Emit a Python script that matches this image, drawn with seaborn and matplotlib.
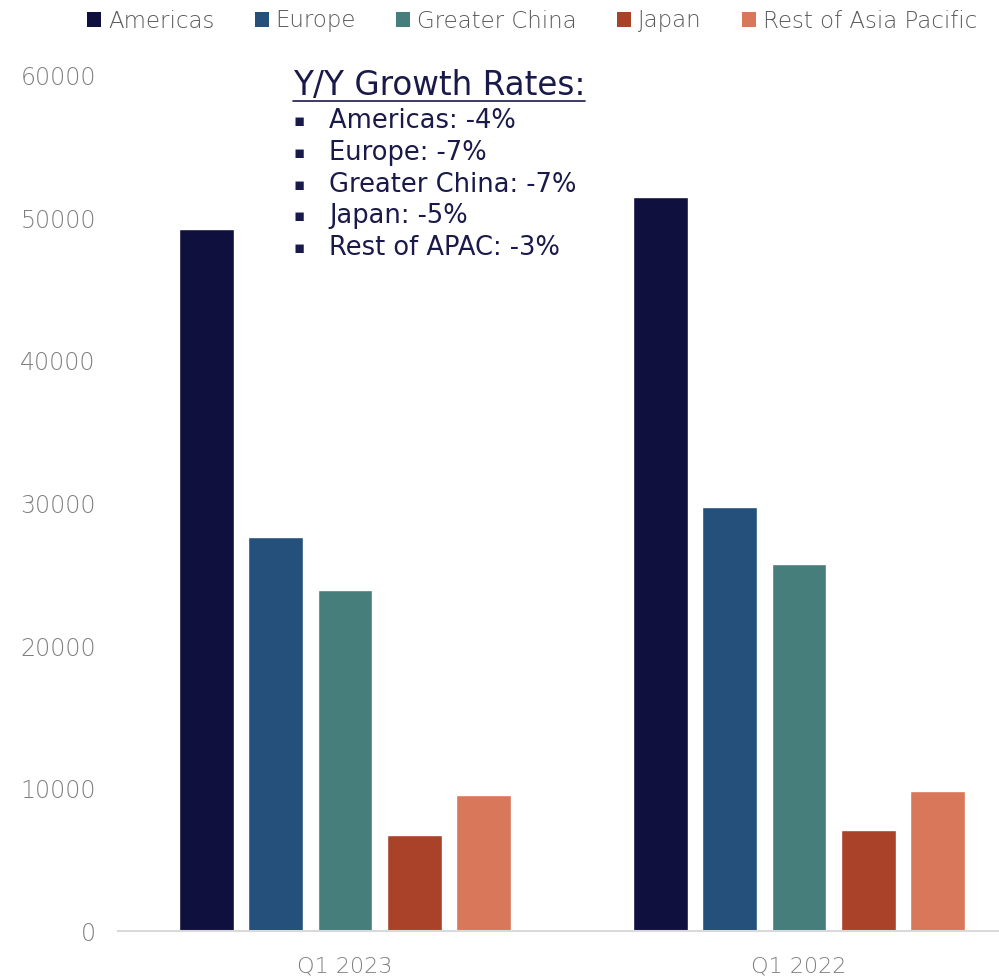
import matplotlib
matplotlib.use("Agg")
import matplotlib.pyplot as plt
from matplotlib.lines import Line2D
from matplotlib.patches import Patch
import seaborn as sns
import pandas as pd

# Revenue by region (USD millions)
quarters = ["Q1 2023", "Q1 2022"]
regions = ["Americas", "Europe", "Greater China", "Japan", "Rest of Asia Pacific"]
q1_2023 = [49278, 27681, 23905, 6755, 9535]
q1_2022 = [51496, 29749, 25783, 7107, 9810]
growth_labels = ["Americas: -4%", "Europe: -7%", "Greater China: -7%",
                 "Japan: -5%", "Rest of APAC: -3%"]
y_ticks = [0, 10000, 20000, 30000, 40000, 50000, 60000]

colors = ["#10103F", "#24507B", "#467E7B", "#AA4129", "#D9775A"]

df = pd.DataFrame({
    "quarter": [quarters[0]] * 5 + [quarters[1]] * 5,
    "region": regions * 2,
    "revenue": q1_2023 + q1_2022,
})

sns.set_theme(style="white")
plt.rcParams["font.family"] = ["DejaVu Sans"]

fig = plt.figure(figsize=(9.99, 9.8), dpi=100)
ax = fig.add_axes([118 / 999, 49 / 980, 881 / 999, 855 / 980])

sns.barplot(data=df, x="quarter", y="revenue", hue="region",
            hue_order=regions, order=quarters, palette=colors,
            width=0.765, gap=0.21, ax=ax, legend=False, saturation=1)

ax.set_xlim(-0.5, -0.5 + 881 / 454)
ax.set_ylim(0, 60000)
ax.set_yticks(y_ticks)
ax.set_yticklabels([str(t) for t in y_ticks])
ax.set_xlabel("")
ax.set_ylabel("")
for s in ["top", "right", "left"]:
    ax.spines[s].set_visible(False)
ax.spines["bottom"].set_color("#D9D9D9")
ax.spines["bottom"].set_linewidth(1.5)
ax.tick_params(axis="both", length=0, colors="#7F7F7F")
ax.tick_params(axis="y", pad=16, labelsize=17)
ax.tick_params(axis="x", pad=18, labelsize=16)
for lab in ax.get_xticklabels() + ax.get_yticklabels():
    lab.set_fontweight("light")

# Legend across the top
handles = [Patch(facecolor=c, edgecolor="none") for c in colors]
leg = fig.legend(handles, regions, loc="center", bbox_to_anchor=(532 / 999, 1 - 21 / 980),
                 ncol=5, frameon=False, fontsize=16.5, handlelength=0.62, handleheight=0.62,
                 handletextpad=0.3, columnspacing=1.75, labelcolor="#595959")
for t in leg.get_texts():
    t.set_fontweight("light")

# Growth-rate callout
navy = "#1A1A4A"
title = fig.text(293 / 999, 1 - 85 / 980, "Y/Y Growth Rates:", fontsize=23.5,
                 color=navy, va="center", ha="left")
fig.canvas.draw()
bb = title.get_window_extent().transformed(fig.transFigure.inverted())
fig.add_artist(Line2D([bb.x0, bb.x1], [bb.y0 + 0.0005, bb.y0 + 0.0005],
                      transform=fig.transFigure, color=navy, lw=1.2))

for i, txt in enumerate(growth_labels):
    y = 1 - (121 + i * 31.8) / 980
    fig.text(299 / 999, y, "\u25AA", fontsize=12, color=navy, va="center",
             ha="center")
    fig.text(329 / 999, y, txt, fontsize=18.5, color=navy, va="center", ha="left")

fig.savefig("out.png", dpi=100)
